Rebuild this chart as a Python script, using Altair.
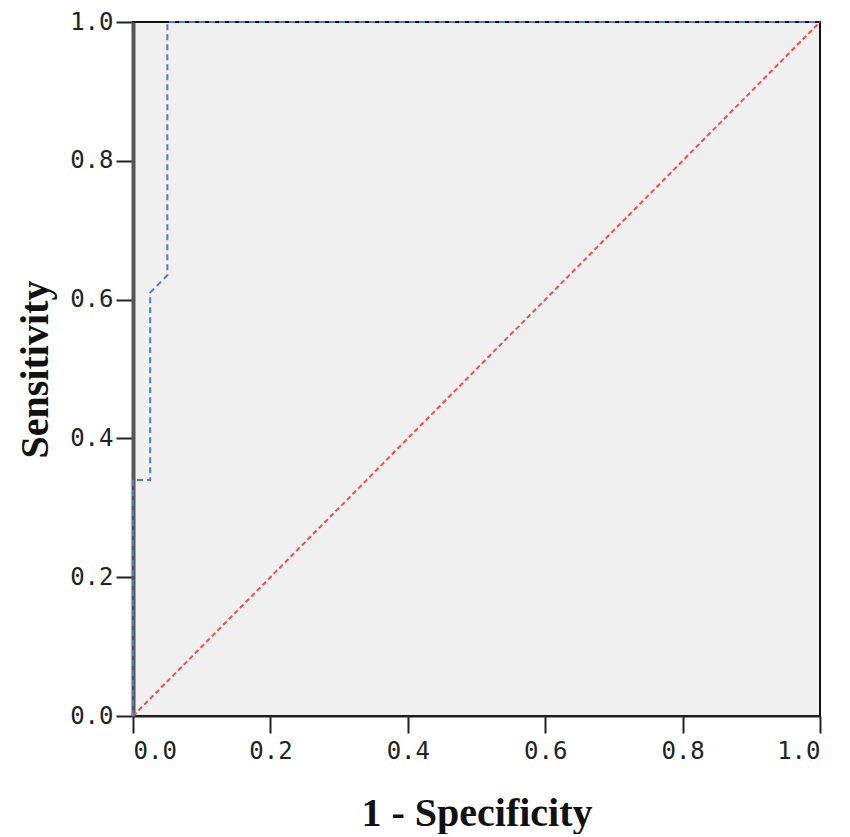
import altair as alt
import pandas as pd

# ROC curve points (1 - specificity, sensitivity)
roc_fpr = [0.0, 0.0, 0.025, 0.025, 0.05, 0.05, 1.0]
roc_tpr = [0.0, 0.34, 0.34, 0.61, 0.635, 1.0, 1.0]
ref_fpr = [0.0, 1.0]
ref_tpr = [0.0, 1.0]
ticks = [0.0, 0.2, 0.4, 0.6, 0.8, 1.0]

roc = pd.DataFrame({"x": roc_fpr, "y": roc_tpr, "o": list(range(len(roc_fpr)))})
ref = pd.DataFrame({"x": ref_fpr, "y": ref_tpr, "o": [0, 1]})

xs = alt.Scale(domain=[0, 1], nice=False, zero=False)
ys = alt.Scale(domain=[0, 1], nice=False, zero=False)

label_font = "DejaVu Sans Mono"
title_font = "Liberation Serif"

xaxis = alt.Axis(values=ticks, format=".1f", title="1 - Specificity", grid=False,
                 domainColor="#222", domainWidth=2, tickColor="#222", tickWidth=2, tickSize=17,
                 labelFont=label_font, labelFontSize=24, labelColor="#222", labelPadding=6,
                 titleFont=title_font, titleFontSize=40, titleFontWeight="bold", titleColor="#111",
                 titlePadding=30)
yaxis = alt.Axis(values=ticks, format=".1f", title="Sensitivity", grid=False,
                 domainColor="#555", domainWidth=4, tickColor="#222", tickWidth=2, tickSize=17,
                 labelFont=label_font, labelFontSize=24, labelColor="#222", labelPadding=3,
                 titleFont=title_font, titleFontSize=40, titleFontWeight="bold", titleColor="#111",
                 titlePadding=14)

diag = alt.Chart(ref).mark_line(color="#FF4A4A", strokeWidth=2, strokeDash=[5, 3]).encode(
    x=alt.X("x:Q", scale=xs, axis=xaxis),
    y=alt.Y("y:Q", scale=ys, axis=yaxis),
    order="o:Q",
)
curve = alt.Chart(roc).mark_line(color="#5577CC", strokeWidth=2, strokeDash=[6, 4]).encode(
    x=alt.X("x:Q", scale=xs),
    y=alt.Y("y:Q", scale=ys),
    order="o:Q",
)

chart = (diag + curve).properties(
    width=687, height=694,
    autosize=alt.AutoSizeParams(type="none"),
    padding={"left": 125, "top": 14, "right": 22, "bottom": 118},
).configure_view(
    fill="#F0F0F0", stroke="#111", strokeWidth=2
)

chart.save("out.html", embed_options={"renderer": "svg", "actions": False})
